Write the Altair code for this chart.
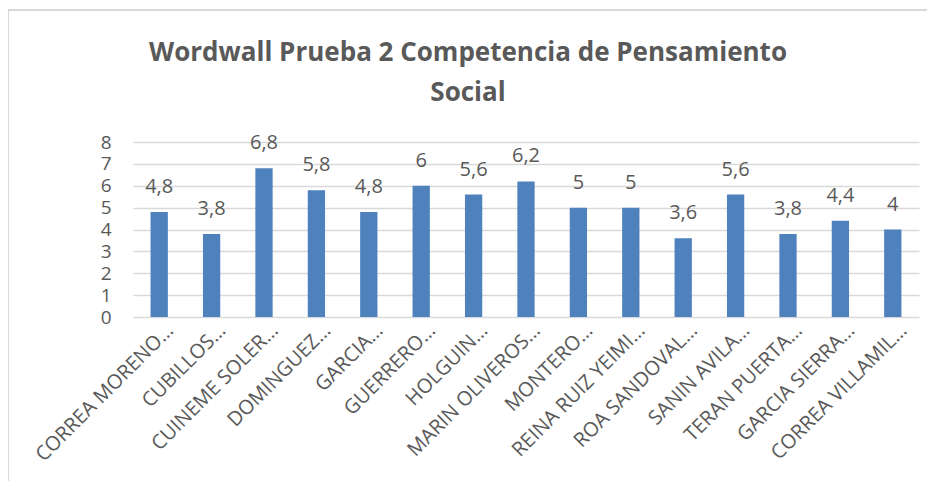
import altair as alt
import pandas as pd

names = ["CORREA MORENO…", "CUBILLOS…", "CUINEME SOLER…", "DOMINGUEZ…", "GARCIA…",
         "GUERRERO…", "HOLGUIN…", "MARIN OLIVEROS…", "MONTERO…", "REINA RUIZ YEIMI…",
         "ROA SANDOVAL…", "SANIN AVILA…", "TERAN PUERTA…", "GARCIA SIERRA…", "CORREA VILLAMIL…"]
scores = [4.8, 3.8, 6.8, 5.8, 4.8, 6, 5.6, 6.2, 5, 5, 3.6, 5.6, 3.8, 4.4, 4]
y_ticks = [0, 1, 2, 3, 4, 5, 6, 7, 8]

df = pd.DataFrame({"name": names, "score": scores})
df["label"] = [("%g" % v).replace(".", ",") for v in scores]

GRAY = "#595959"
FONT = "Open Sans"

x_axis = alt.Axis(labelAngle=-45, labelAlign="right", labelBaseline="middle",
                  labelFontSize=20, labelFont=FONT, labelColor=GRAY,
                  labelPadding=10, labelOffset=11, ticks=False, domain=False,
                  grid=False, labelLimit=400, labelOverlap=False)
y_axis = alt.Axis(values=y_ticks, tickCount=12, format="d", labelFontSize=19,
                  labelFont=FONT, labelColor=GRAY, labelPadding=22, ticks=False,
                  domain=False, labelOverlap=False, gridColor="#D9D9D9", gridWidth=1.3)
x_scale = alt.Scale(paddingInner=0.67, paddingOuter=0.335)
y_scale = alt.Scale(domain=[0, 8], nice=False)

base = alt.Chart(df)
bars = base.mark_bar(color="#4F81BD").encode(
    x=alt.X("name:N", sort=None, title=None, scale=x_scale, axis=x_axis),
    y=alt.Y("score:Q", title=None, scale=y_scale, axis=y_axis))
labels = base.mark_text(dy=-25, fontSize=20, font=FONT, color=GRAY).encode(
    x=alt.X("name:N", sort=None, title=None, scale=x_scale, axis=x_axis),
    y=alt.Y("score:Q", title=None, scale=y_scale, axis=y_axis),
    text="label:N")

border_top = alt.Chart(df).mark_rule(color="#D9D9D9", strokeWidth=1.5).encode(
    x=alt.value(-125), x2=alt.value(800), y=alt.value(-132))
border_left = alt.Chart(df).mark_rule(color="#D9D9D9", strokeWidth=1.5).encode(
    x=alt.value(-125), y=alt.value(-132), y2=alt.value(345))

chart = alt.layer(border_top, border_left, bars, labels).properties(
    width=786, height=175,
    title=alt.TitleParams(["Wordwall Prueba 2 Competencia de Pensamiento", "Social"],
                          fontSize=26, font=FONT, fontWeight="bold", color=GRAY,
                          anchor="middle", dx=-58, offset=-97, lineHeight=40),
    autosize=alt.AutoSizeParams(type="none"),
    padding={"left": 125, "top": 134, "right": 8, "bottom": 164},
).configure_view(stroke=None)

chart.save("out.html", embed_options={"renderer": "svg", "actions": False})
